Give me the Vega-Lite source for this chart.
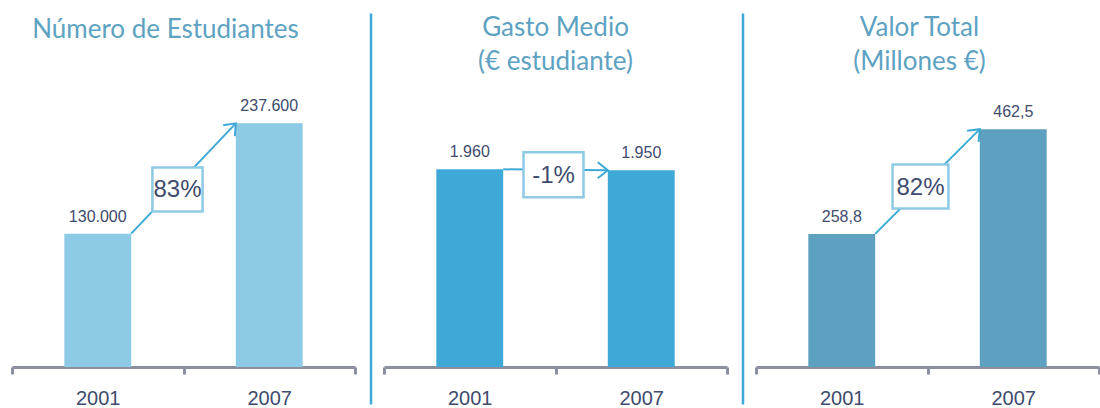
{
  "$schema": "https://vega.github.io/schema/vega-lite/v6.json",
  "background": "white",
  "padding": {"left": 10, "top": 13, "right": 0, "bottom": 0},
  "autosize": {"type": "pad"},
  "spacing": 29,
  "bounds": "flush",
  "config": {
    "view": {"stroke": null},
    "locale": {"number": {"decimal": ",", "thousands": ".", "grouping": [3], "currency": ["", " €"]}},
    "axisX": {"domainColor": "#8B8FA0", "domainWidth": 3, "tickColor": "#8B8FA0", "tickWidth": 3, "tickSize": 7, "tickBand": "extent", "labelFontSize": 20, "labelFont": "Liberation Sans", "labelColor": "#404B6E", "labelPadding": 14, "labelAngle": 0, "offset": -37, "grid": false},
    "axisY": {"labels": false, "ticks": false, "grid": false, "domainColor": "#3EA9D6", "domainWidth": 2.5, "offset": 13.5},
    "title": {"font": "Lato", "fontSize": 26, "fontWeight": "normal", "color": "#5DA2C2", "lineHeight": 34, "anchor": "middle", "frame": "group", "baseline": "top"}
  },
  "datasets": {
    "n": [{"year": "2001", "value": 130000, "change": "83%"}, {"year": "2007", "value": 237600, "change": "83%"}],
    "g": [{"year": "2001", "value": 1960, "change": "-1%"}, {"year": "2007", "value": 1950, "change": "-1%"}],
    "v": [{"year": "2001", "value": 258.8, "change": "82%"}, {"year": "2007", "value": 462.5, "change": "82%"}]
  },
  "hconcat": [
    {
      "width": 343, "height": 391,
      "title": {"text": ["Número de Estudiantes"], "dx": -18, "offset": -30},
      "data": {"name": "n"},
      "layer": [
        {"mark": {"type": "bar", "color": "#8DCAE6", "width": {"band": 0.39}},
         "encoding": {"x": {"field": "year", "type": "nominal", "title": null, "scale": {"paddingInner": 0, "paddingOuter": 0}},
                      "y": {"field": "value", "type": "quantitative", "axis": null, "scale": {"domain": [-36076, 345164], "nice": false}}}},
        {"mark": {"type": "text", "font": "Liberation Sans", "fontSize": 16, "color": "#404B6E", "baseline": "bottom", "dy": -9},
         "encoding": {"x": {"field": "year", "type": "nominal", "title": null},
                      "y": {"field": "value", "type": "quantitative", "axis": null},
                      "text": {"field": "value", "type": "quantitative", "format": ",.0f"}}},
        {"transform": [{"pivot": "year", "value": "value"}],
         "mark": {"type": "rule", "color": "#3EA9D6", "strokeWidth": 2},
         "encoding": {"x": {"datum": "2001", "bandPosition": 0.695}, "x2": {"datum": "2007", "bandPosition": 0.305},
                      "y": {"field": "2001", "type": "quantitative", "axis": null}, "y2": {"field": "2007"}}},
        {"transform": [{"pivot": "year", "value": "value"}],
         "mark": {"type": "point", "shape": "M-1,-0.8L0,0L-1,0.8", "angle": 313, "size": 400, "filled": false, "stroke": "#3EA9D6", "strokeWidth": 2, "opacity": 1},
         "encoding": {"x": {"datum": "2007", "bandPosition": 0.305},
                      "y": {"field": "2007", "type": "quantitative", "axis": null}}},
        {"mark": {"type": "point", "shape": "M-1.14,-1L1.14,-1L1.14,1L-1.14,1Z", "size": 1936, "filled": true, "fill": "white", "stroke": "#8DCAE6", "strokeWidth": 2.5, "opacity": 1, "xOffset": -6, "yOffset": 11},
         "encoding": {"y": {"aggregate": "mean", "field": "value", "type": "quantitative", "axis": null}, "detail": {"field": "change"}}},
        {"mark": {"type": "text", "font": "Liberation Sans", "fontSize": 24, "color": "#404B6E", "baseline": "middle", "xOffset": -6, "yOffset": 12},
         "encoding": {"y": {"aggregate": "mean", "field": "value", "type": "quantitative", "axis": null}, "text": {"field": "change"}}}
      ]
    },
    {
      "width": 343, "height": 391,
      "title": {"text": ["Gasto Medio", "(€ estudiante)"], "offset": -62},
      "data": {"name": "g"},
      "layer": [
        {"mark": {"type": "bar", "color": "#3EA9D6", "width": {"band": 0.39}},
         "encoding": {"x": {"field": "year", "type": "nominal", "title": null, "scale": {"paddingInner": 0, "paddingOuter": 0}},
                      "y": {"field": "value", "type": "quantitative", "title": null, "scale": {"domain": [-366.9, 3510], "nice": false}}}},
        {"mark": {"type": "text", "font": "Liberation Sans", "fontSize": 16, "color": "#404B6E", "baseline": "bottom", "dy": -9},
         "encoding": {"x": {"field": "year", "type": "nominal", "title": null},
                      "y": {"field": "value", "type": "quantitative", "title": null},
                      "text": {"field": "value", "type": "quantitative", "format": ",.0f"}}},
        {"transform": [{"pivot": "year", "value": "value"}],
         "mark": {"type": "rule", "color": "#3EA9D6", "strokeWidth": 2},
         "encoding": {"x": {"datum": "2001", "bandPosition": 0.695}, "x2": {"datum": "2007", "bandPosition": 0.305},
                      "y": {"field": "2001", "type": "quantitative", "title": null}, "y2": {"field": "2007"}}},
        {"transform": [{"pivot": "year", "value": "value"}],
         "mark": {"type": "point", "shape": "M-1,-0.8L0,0L-1,0.8", "angle": 0, "size": 400, "filled": false, "stroke": "#3EA9D6", "strokeWidth": 2, "opacity": 1},
         "encoding": {"x": {"datum": "2007", "bandPosition": 0.305},
                      "y": {"field": "2007", "type": "quantitative", "title": null}}},
        {"mark": {"type": "point", "shape": "M-1.333,-1L1.333,-1L1.333,1L-1.333,1Z", "size": 2025, "filled": true, "fill": "white", "stroke": "#8DCAE6", "strokeWidth": 2.5, "opacity": 1, "xOffset": -2, "yOffset": 5},
         "encoding": {"y": {"aggregate": "mean", "field": "value", "type": "quantitative", "title": null}, "detail": {"field": "change"}}},
        {"mark": {"type": "text", "font": "Liberation Sans", "fontSize": 24, "color": "#404B6E", "baseline": "middle", "xOffset": -2, "yOffset": 6},
         "encoding": {"y": {"aggregate": "mean", "field": "value", "type": "quantitative", "title": null}, "text": {"field": "change"}}}
      ]
    },
    {
      "width": 343, "height": 391,
      "title": {"text": ["Valor Total", "(Millones €)"], "offset": -62, "dx": -8},
      "data": {"name": "v"},
      "layer": [
        {"mark": {"type": "bar", "color": "#5DA0BF", "width": {"band": 0.39}},
         "encoding": {"x": {"field": "year", "type": "nominal", "title": null, "scale": {"paddingInner": 0, "paddingOuter": 0}},
                      "y": {"field": "value", "type": "quantitative", "title": null, "scale": {"domain": [-71.95, 688.4], "nice": false}}}},
        {"mark": {"type": "text", "font": "Liberation Sans", "fontSize": 16, "color": "#404B6E", "baseline": "bottom", "dy": -9},
         "encoding": {"x": {"field": "year", "type": "nominal", "title": null},
                      "y": {"field": "value", "type": "quantitative", "title": null},
                      "text": {"field": "value", "type": "quantitative", "format": ",.1f"}}},
        {"transform": [{"pivot": "year", "value": "value"}],
         "mark": {"type": "rule", "color": "#3EA9D6", "strokeWidth": 2},
         "encoding": {"x": {"datum": "2001", "bandPosition": 0.695}, "x2": {"datum": "2007", "bandPosition": 0.305},
                      "y": {"field": "2001", "type": "quantitative", "title": null}, "y2": {"field": "2007"}}},
        {"transform": [{"pivot": "year", "value": "value"}],
         "mark": {"type": "point", "shape": "M-1,-0.8L0,0L-1,0.8", "angle": 314, "size": 400, "filled": false, "stroke": "#3EA9D6", "strokeWidth": 2, "opacity": 1},
         "encoding": {"x": {"datum": "2007", "bandPosition": 0.305},
                      "y": {"field": "2007", "type": "quantitative", "title": null}}},
        {"mark": {"type": "point", "shape": "M-1.27,-1L1.27,-1L1.27,1L-1.27,1Z", "size": 1936, "filled": true, "fill": "white", "stroke": "#8DCAE6", "strokeWidth": 2.5, "opacity": 1, "xOffset": -7, "yOffset": 5},
         "encoding": {"y": {"aggregate": "mean", "field": "value", "type": "quantitative", "title": null}, "detail": {"field": "change"}}},
        {"mark": {"type": "text", "font": "Liberation Sans", "fontSize": 24, "color": "#404B6E", "baseline": "middle", "xOffset": -7, "yOffset": 6},
         "encoding": {"y": {"aggregate": "mean", "field": "value", "type": "quantitative", "title": null}, "text": {"field": "change"}}}
      ]
    }
  ]
}
